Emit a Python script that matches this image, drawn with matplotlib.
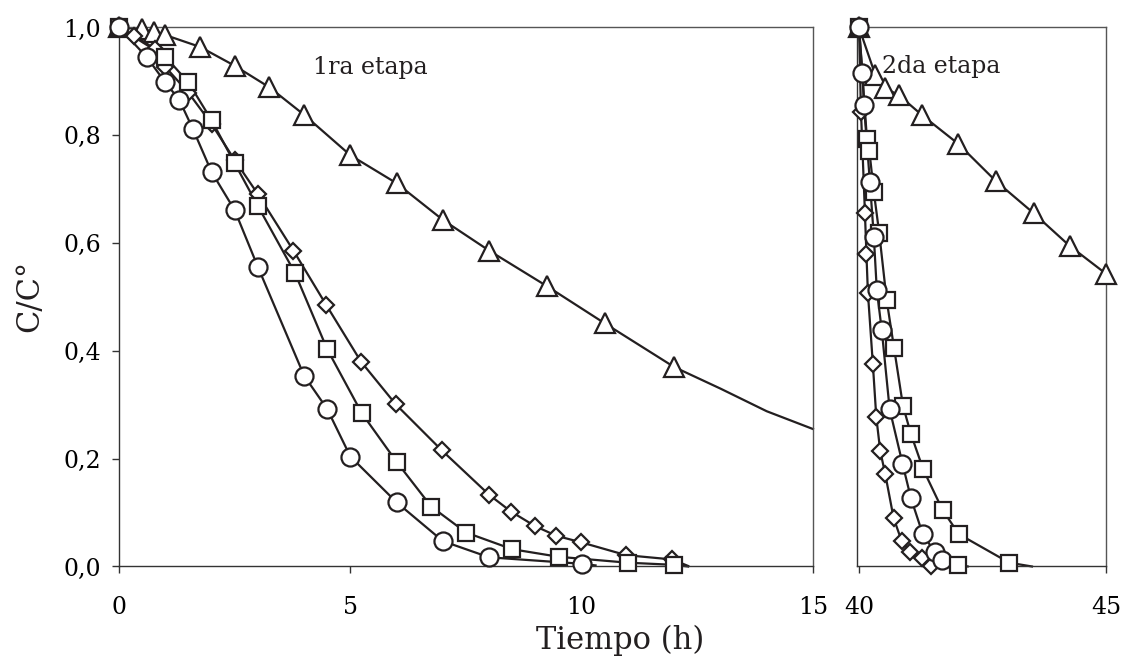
## Cinetica de adsorcion - 1ra y 2da etapa

import numpy as np
import matplotlib.pyplot as plt

plt.rcParams['font.family'] = 'DejaVu Serif'

### ---- 1ra etapa ---- ###
t_circ = [0, 0.6, 1.0, 1.3, 1.6, 2.0, 2.5, 3.0, 4.0, 4.5, 5.0, 6.0, 7.0, 8.0, 10.0]
c_circ = [1.0, 0.945, 0.898, 0.866, 0.811, 0.732, 0.661, 0.556, 0.354, 0.292, 0.204, 0.119, 0.047, 0.017, 0.005]

t_cuad = [0, 1.0, 1.5, 2.0, 2.5, 3.0, 3.8, 4.5, 5.25, 6.0, 6.75, 7.5, 8.5, 9.5, 11.0, 12.0]
c_cuad = [1.0, 0.946, 0.898, 0.828, 0.748, 0.669, 0.545, 0.403, 0.284, 0.194, 0.111, 0.063, 0.032, 0.018, 0.007, 0.003]

t_romb = [0, 0.33, 0.78, 1.0, 1.5, 2.0, 2.5, 3.0, 3.77, 4.48, 5.23, 5.98, 6.97, 8.0, 8.47, 8.99, 9.45, 9.98, 10.96, 11.96]
c_romb = [1.0, 0.985, 0.96, 0.927, 0.879, 0.821, 0.754, 0.691, 0.586, 0.485, 0.380, 0.301, 0.216, 0.133, 0.102, 0.075, 0.057, 0.045, 0.021, 0.013]

t_tri = [0, 0.5, 0.75, 1.0, 1.75, 2.5, 3.25, 4.0, 5.0, 6.0, 7.0, 8.0, 9.25, 10.5, 12.0]
c_tri = [1.0, 0.997, 0.992, 0.986, 0.964, 0.929, 0.889, 0.838, 0.763, 0.711, 0.643, 0.586, 0.520, 0.451, 0.370]

# final de las curvas de ajuste (sin puntos experimentales)
t_circ_fin, c_circ_fin = [10.3], [0.002]
t_cuad_fin, c_cuad_fin = [12.3], [0.0]
t_romb_fin, c_romb_fin = [12.3], [0.001]
t_tri_fin, c_tri_fin = [13.0, 14.0, 15.0], [0.330, 0.288, 0.255]

### ---- 2da etapa ---- ###
t2_circ = [40.0, 40.07, 40.1, 40.22, 40.3, 40.36, 40.46, 40.62, 40.88, 41.05, 41.29, 41.53, 41.67]
c2_circ = [1.0, 0.915, 0.856, 0.714, 0.612, 0.513, 0.439, 0.292, 0.191, 0.127, 0.060, 0.027, 0.012]

t2_cuad = [40.0, 40.16, 40.21, 40.3, 40.41, 40.56, 40.71, 40.89, 41.05, 41.3, 41.69, 42.02, 43.04]
c2_cuad = [1.0, 0.794, 0.771, 0.695, 0.618, 0.494, 0.405, 0.298, 0.246, 0.180, 0.105, 0.060, 0.007]

t2_romb = [40.0, 40.04, 40.12, 40.15, 40.18, 40.28, 40.35, 40.43, 40.53, 40.70, 40.86, 41.04, 41.27, 41.46]
c2_romb = [1.0, 0.844, 0.656, 0.58, 0.508, 0.376, 0.277, 0.214, 0.172, 0.090, 0.048, 0.027, 0.016, 0.0]

t2_tri = [40.0, 40.33, 40.53, 40.8, 41.28, 42.01, 42.77, 43.54, 44.26, 45.0]
c2_tri = [1.0, 0.912, 0.887, 0.875, 0.837, 0.784, 0.715, 0.655, 0.595, 0.543]

t2_circ_fin, c2_circ_fin = [42.2], [0.0]
t2_cuad_fin, c2_cuad_fin = [43.5], [0.0]
t2_extra, c2_extra = [42.0], [0.003]

y_ticks = [0.0, 0.2, 0.4, 0.6, 0.8, 1.0]
y_ticklabels = ['0,0', '0,2', '0,4', '0,6', '0,8', '1,0']

negro = '#231f20'
estilo = dict(color=negro, lw=1.6, mfc='white', mec=negro, mew=1.6)


def curva(ax, t, c, t_fin, c_fin, marca, ms):
    ax.plot(t + t_fin, c + c_fin, '-', color=negro, lw=1.6, zorder=2)
    ax.plot(t, c, marca, ms=ms, ls='none', **estilo, zorder=3)


fig = plt.figure(figsize=(11.22, 6.61), dpi=100)
ax1 = fig.add_axes([0.1061, 0.143, 0.6185, 0.8154])
ax2 = fig.add_axes([0.7634, 0.143, 0.2224, 0.8154])

curva(ax1, t_tri, c_tri, t_tri_fin, c_tri_fin, '^', 14)
curva(ax1, t_romb, c_romb, t_romb_fin, c_romb_fin, 'D', 8.5)
curva(ax1, t_cuad, c_cuad, t_cuad_fin, c_cuad_fin, 's', 11)
curva(ax1, t_circ, c_circ, t_circ_fin, c_circ_fin, 'o', 13)

curva(ax2, t2_tri, c2_tri, [], [], '^', 14)
curva(ax2, t2_cuad, c2_cuad, t2_cuad_fin, c2_cuad_fin, 's', 11)
curva(ax2, t2_romb, c2_romb, [], [], 'D', 8.5)
curva(ax2, t2_circ, c2_circ, t2_circ_fin, c2_circ_fin, 'o', 13)
ax2.plot(t2_extra, c2_extra, 's', ms=11, **estilo, zorder=3)

ax1.set_xlim(0, 15)
ax1.set_ylim(0, 1.0)
ax1.set_xticks([0, 5, 10, 15])
ax1.set_yticks(y_ticks)
ax1.set_yticklabels(y_ticklabels)
ax1.tick_params(direction='out', length=5, width=1, labelsize=17, color='#333333')
ax1.tick_params(axis='x', pad=16)
ax1.tick_params(axis='y', pad=8)

ax2.set_xlim(39.95, 45)
ax2.set_ylim(0, 1.0)
ax2.set_xticks([40, 45])
ax2.set_yticks([])
ax2.tick_params(direction='out', length=5, width=1, labelsize=17, color='#333333')
ax2.tick_params(axis='x', pad=16)

for ax in (ax1, ax2):
    for s in ax.spines.values():
        s.set_linewidth(1.0)
        s.set_color('#555555')
    ax.spines['left'].set_color('#333333')
    ax.spines['bottom'].set_color('#333333')
    for ln in ax.lines:
        ln.set_clip_on(False)

ax1.text(5.43, 0.925, '1ra etapa', fontsize=17, ha='center', va='center', color=negro)
ax2.text(41.67, 0.927, '2da etapa', fontsize=17, ha='center', va='center', color=negro)

fig.text(0.553, 1 - 640 / 661, 'Tiempo (h)', fontsize=22, ha='center', va='center', color=negro)
fig.text(30 / 1122, 1 - 296 / 661, 'C/C°', fontsize=22, rotation=90, ha='center', va='center', color=negro)

plt.savefig('out.png', dpi=100)
